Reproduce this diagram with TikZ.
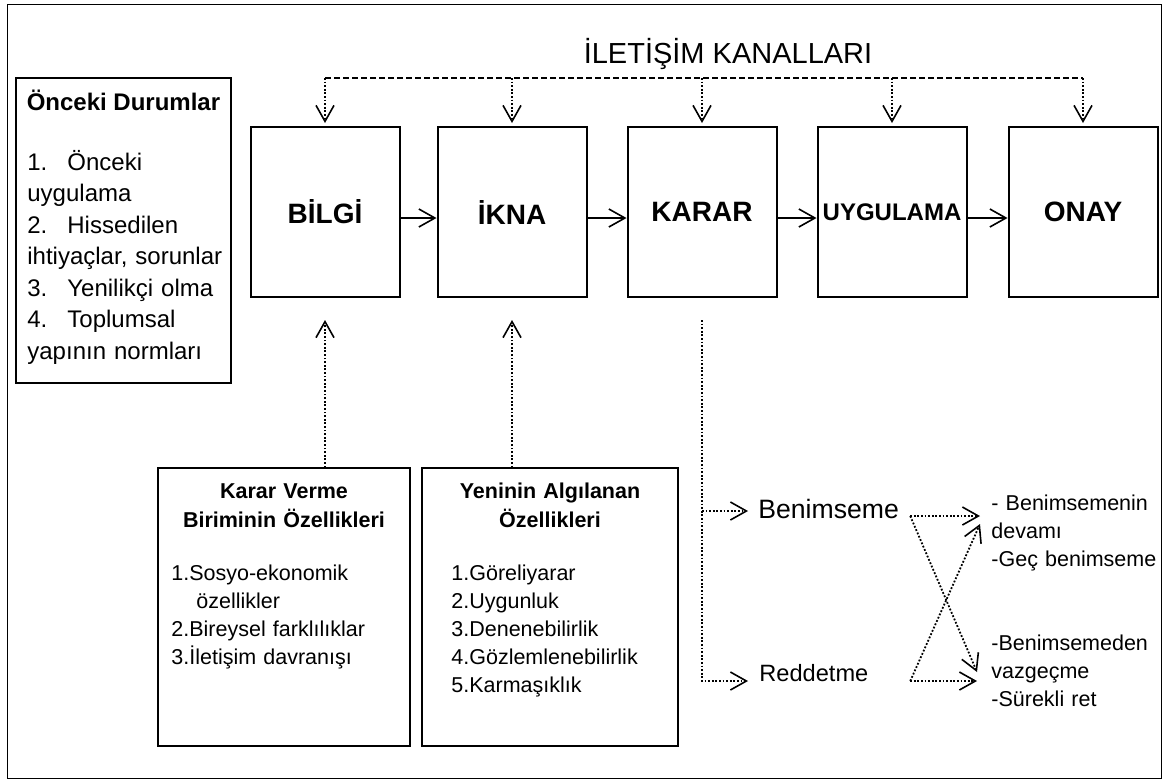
\documentclass[tikz,border=0pt]{standalone}
\usepackage{fontspec}
\setmainfont{Liberation Sans}
\usetikzlibrary{arrows.meta}

\begin{document}
\begin{tikzpicture}[x=0.5pt,y=-0.5pt,
    stage/.style={draw,line width=1pt,minimum width=74.5pt,minimum height=85pt,inner sep=0pt,font=\bfseries\fontsize{14}{16}\selectfont},
    listbox/.style={draw,line width=0.6pt,inner sep=0pt,minimum height=139pt},
    dotline/.style={line width=0.9pt,dash pattern=on 0.9pt off 0.9pt},
    vtip/.style={-{Straight Barb[length=8pt,width=9pt,line width=0.8pt]}},
    solidarrow/.style={line width=0.7pt,vtip},
    dotarrow/.style={dotline,vtip},
    body/.style={inner sep=0pt,align=left,anchor=base west},
    heading/.style={inner sep=0pt,align=center,anchor=base,font=\bfseries\fontsize{10.75}{14.5}\selectfont}]
    \useasboundingbox (0,0) rectangle (1165,783);
    \draw[line width=0.5pt] (7,4) rectangle (1161,778);

    \node[font=\fontsize{14.5}{17}\selectfont,anchor=base,inner sep=0pt] (kanal) at (728,63) {İLETİŞİM KANALLARI};

    \node[draw,line width=0.7pt,minimum width=107.5pt,minimum height=152.5pt,inner sep=0pt] (onceki) at (123.5,230.5) {};
    \node[heading,font=\bfseries\fontsize{12}{14}\selectfont] (oncekibas) at (123.5,110) {Önceki Durumlar};
    \node[body,text width=100pt,font=\fontsize{12}{15.75}\selectfont] (oncekilist) at (27,170) {1.\hspace{10pt}Önceki\\uygulama\\2.\hspace{10pt}Hissedilen\\ihtiyaçlar, sorunlar\\3.\hspace{10pt}Yenilikçi olma\\4.\hspace{10pt}Toplumsal\\yapının normları};

    \node[stage] (bilgi) at (325,212) {BİLGİ};
    \node[stage] (ikna) at (512,212) {İKNA};
    \node[stage] (karar) at (702,212) {KARAR};
    \node[stage,font=\bfseries\fontsize{12}{14}\selectfont] (uygulama) at (892,212) {UYGULAMA};
    \node[stage] (onay) at (1083,212) {ONAY};
    \draw[solidarrow] ([yshift=-3pt]bilgi.east) -- ([yshift=-3pt]ikna.west); \draw[solidarrow] ([yshift=-3pt]ikna.east) -- ([yshift=-3pt]karar.west); \draw[solidarrow] ([yshift=-3pt]karar.east) -- ([yshift=-3pt]uygulama.west); \draw[solidarrow] ([yshift=-3pt]uygulama.east) -- ([yshift=-3pt]onay.west);

    \coordinate (kanal_y) at (0,78);
    \draw[line width=0.9pt,dash pattern=on 3pt off 1.5pt] (bilgi.north |- kanal_y) -- (onay.north |- kanal_y);
    \draw[dotarrow] (bilgi.north |- kanal_y) -- ([yshift=1.5pt]bilgi.north); \draw[dotarrow] (ikna.north |- kanal_y) -- ([yshift=1.5pt]ikna.north); \draw[dotarrow] (karar.north |- kanal_y) -- ([yshift=1.5pt]karar.north); \draw[dotarrow] (uygulama.north |- kanal_y) -- ([yshift=1.5pt]uygulama.north); \draw[dotarrow] (onay.north |- kanal_y) -- ([yshift=1.5pt]onay.north);

    \node[listbox,minimum width=126pt] (verme) at (284,607) {};
    \node[listbox,minimum width=128pt] (yeni) at (550,607) {};
    \node[heading,text width=125pt] (vermebas) at (284,498) {Karar Verme\\Biriminin Özellikleri};
    \node[heading,text width=125pt] (yenibas) at (550,498) {Yeninin Algılanan\\Özellikleri};
    \node[body,text width=120pt,font=\fontsize{10.75}{14}\selectfont] (vermelist) at (171,580) {1.Sosyo-ekonomik\\\hspace*{12.5pt}özellikler\\2.Bireysel farklılıklar\\3.İletişim davranışı};
    \node[body,text width=120pt,font=\fontsize{10.75}{14.1}\selectfont] (yenilist) at (451,580) {1.Göreliyarar\\2.Uygunluk\\3.Denenebilirlik\\4.Gözlemlenebilirlik\\5.Karmaşıklık};
    \draw[dotarrow] (bilgi.south |- verme.north) -- ([yshift=-11pt]bilgi.south);
    \draw[dotarrow] (ikna.south |- yeni.north) -- ([yshift=-11pt]ikna.south);

    \node[font=\fontsize{13.3}{16}\selectfont,anchor=base west,inner sep=0pt] (benimseme) at (758,518) {Benimseme};
    \node[font=\fontsize{11.8}{14}\selectfont,anchor=base west,inner sep=0pt] (reddetme) at (759,681) {Reddetme};
    \coordinate (karar_top) at ([yshift=-11pt]karar.south);
    \coordinate (ben_in) at ([xshift=-5pt,yshift=3.5pt]benimseme.base west);
    \coordinate (red_in) at ([xshift=-5.5pt]reddetme.base west);
    \draw[dotarrow] (karar_top) |- (red_in); \draw[dotarrow] (karar_top |- ben_in) -- (ben_in);

    \node[body,text width=90pt,font=\fontsize{10.75}{14}\selectfont] (devam) at (991,510) {- Benimsemenin\\devamı\\-Geç benimseme};
    \node[body,text width=90pt,font=\fontsize{10.75}{14}\selectfont] (vazgec) at (991,650) {-Benimsemeden\\vazgeçme\\-Sürekli ret};
    \coordinate (ben_out) at ([xshift=5.5pt,yshift=1pt]benimseme.base east);
    \coordinate (red_out) at (ben_out |- red_in);
    \coordinate (keep_in) at (980,516); \coordinate (keep_up) at (980,524); \coordinate (drop_in) at (977,681); \coordinate (drop_dn) at (977,672);
    \draw[dotarrow] (ben_out) -- (keep_in); \draw[dotarrow] (ben_out) -- (drop_dn);
    \draw[dotarrow] (red_out) -- (drop_in); \draw[dotarrow] (red_out) -- (keep_up);
\end{tikzpicture}
\end{document}
